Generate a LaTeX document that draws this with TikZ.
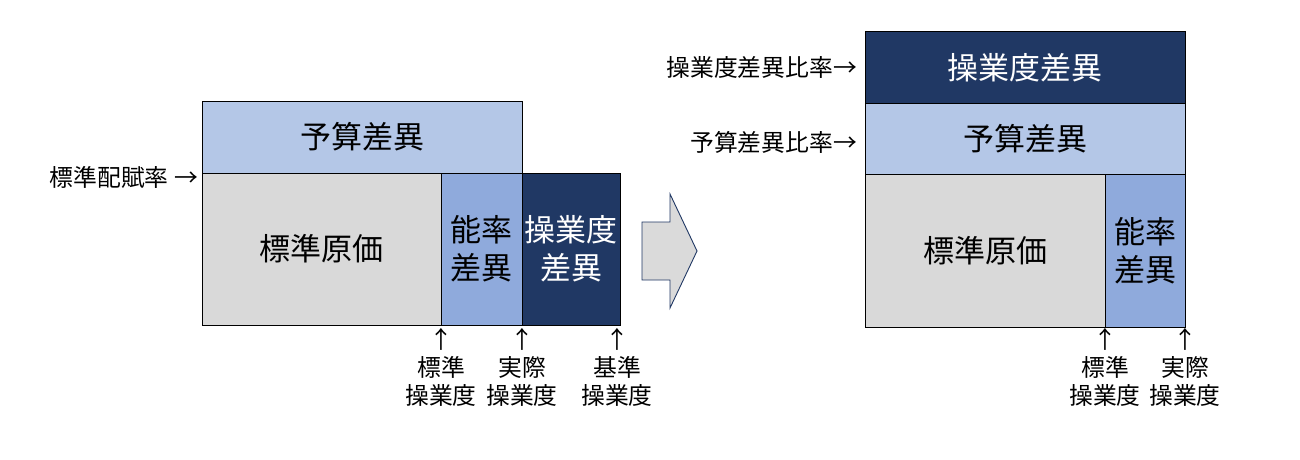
\documentclass[tikz,border=0pt]{standalone}
\usepackage{fontspec}
\setmainfont{Noto Sans CJK JP}
\definecolor{lb}{HTML}{B4C7E7}
\definecolor{mb}{HTML}{8FAADC}
\definecolor{db}{HTML}{203864}
\definecolor{gr}{HTML}{D9D9D9}
\definecolor{arrowfill}{HTML}{DADADA}
\begin{document}
\begin{tikzpicture}[x=1pt,y=-1pt,
  box/.style={draw=black, line width=1pt, inner sep=0pt, outer sep=0pt, anchor=north west,
    align=center, font=\fontsize{31}{38}\selectfont},
  darkbox/.style={box, fill=db, text=white},
  lbl/.style={font=\fontsize{23.8}{28}\selectfont, inner sep=0pt, align=center, text=black},
  bigarrow/.style={fill=arrowfill, draw=db, line width=0.9pt, line join=miter}]
\useasboundingbox[fill=white] (0,0) rectangle (1300,460);

% left diagram
\node[box, fill=lb, minimum width=320pt, minimum height=72pt] (yosanL) at (202,101) {予算差異};
\node[box, fill=gr, minimum width=239pt, minimum height=152pt] (hyojunL) at (202,173) {標準原価};
\node[box, fill=mb, minimum width=81pt, minimum height=152pt] (noritsuL) at (441,173) {能率\\差異};
\node[darkbox, minimum width=98pt, minimum height=152pt] (sogyoL) at (522,173) {操業度\\差異};

\node[lbl, anchor=east] (haifu) at (198,177) {標準配賦率 →};
\node[lbl] (hyojunSL) at (441,367) {↑\\標準\\操業度};
\node[lbl] (jissaiSL) at (522,367) {↑\\実際\\操業度};
\node[lbl] (kijunSL) at (617,367) {↑\\基準\\操業度};

% block arrow
\draw[bigarrow] (642,222) -- (670,222) -- (670,194) -- (697,251) -- (670,308) -- (670,280) -- (642,280) -- cycle;

% right diagram
\node[darkbox, minimum width=320pt, minimum height=71pt] (sogyoR) at (865,32) {操業度差異};
\node[box, fill=lb, minimum width=320pt, minimum height=71pt] (yosanR) at (865,103) {予算差異};
\node[box, fill=gr, minimum width=240pt, minimum height=153pt] (hyojunR) at (865,174) {標準原価};
\node[box, fill=mb, minimum width=80pt, minimum height=153pt] (noritsuR) at (1105,174) {能率\\差異};

\node[lbl, anchor=east] (sogyoRatio) at (857,67) {操業度差異比率→};
\node[lbl, anchor=east] (yosanRatio) at (857,142) {予算差異比率→};
\node[lbl] (hyojunSR) at (1105,367) {↑\\標準\\操業度};
\node[lbl] (jissaiSR) at (1185,367) {↑\\実際\\操業度};
\end{tikzpicture}
\end{document}
